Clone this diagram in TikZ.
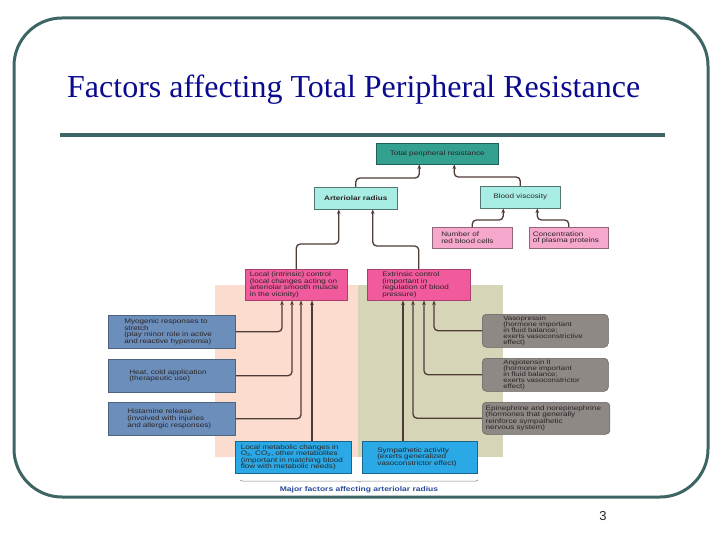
\documentclass[tikz,border=0pt]{standalone}
\usepackage{fontspec}
\setmainfont{Liberation Serif}
\newfontfamily\bxf[FakeStretch=1.25]{Liberation Sans}
\newfontfamily\pnf{Liberation Sans}
\usetikzlibrary{arrows.meta,decorations.pathreplacing}
\definecolor{framec}{HTML}{3D6563}
\definecolor{ttl}{HTML}{0A0A8F}
\definecolor{tprc}{HTML}{34A090}
\definecolor{aqua}{HTML}{A8EDE3}
\definecolor{pinkl}{HTML}{F5A8CC}
\definecolor{hotpink}{HTML}{F15A9C}
\definecolor{pinkbg}{HTML}{FBDCCF}
\definecolor{khaki}{HTML}{D7D5B8}
\definecolor{lblue}{HTML}{6C8EBB}
\definecolor{grayb}{HTML}{8E8985}
\definecolor{bblue}{HTML}{2BA9E6}
\definecolor{connc}{HTML}{4F3B36}
\definecolor{txt}{HTML}{2A2526}
\definecolor{capc}{HTML}{2B4A9C}
\begin{document}
\begin{tikzpicture}[x=1pt,y=-1pt,
  bx/.style={font=\bxf\fontsize{6.5}{6.6}\selectfont, text=txt, inner ysep=0pt,
             anchor=north west, line width=0.5pt},
  conn/.style={draw=connc, line width=1.3pt, rounded corners=4pt,
               -{Stealth[length=4.5pt,width=3.6pt]}},
  lbox/.style={bx, fill=lblue, draw=lblue!70!black, minimum width=127pt,
               minimum height=33pt, align=left},
  gbox/.style={bx, fill=grayb, draw=grayb!70!black, rounded corners=4pt,
               minimum width=126pt, minimum height=33pt, align=left,
               font=\bxf\fontsize{6.3}{6.0}\selectfont},
  pbox/.style={bx, fill=hotpink, draw=hotpink!70!black, minimum width=102pt,
               minimum height=31pt, align=left},
  bbox/.style={bx, fill=bblue, draw=bblue!60!black, minimum width=116pt,
               minimum height=32pt, align=left},
]
\useasboundingbox (0,0) rectangle (720,540);
\fill[white] (0,0) rectangle (720,540);

% frame and title
\draw[framec, line width=3pt, rounded corners=48pt] (14,18) rectangle (708,497);
\node[anchor=base west, font=\fontsize{32}{36}\selectfont, text=ttl, inner sep=0pt]
  (title) at (67,98) {Factors affecting Total Peripheral Resistance};
\draw[framec, line width=3.2pt] (60,135) -- (665,135);

% background panels
\fill[pinkbg] (215,285) rectangle (358,457);
\fill[khaki] (358,285) rectangle (503,457);

% top boxes
\node[bx, fill=tprc, draw=tprc!60!black, minimum width=122pt, minimum height=21pt]
  (tpr) at (376,143) {Total peripheral resistance};
\node[bx, fill=aqua, draw=aqua!50!black, minimum width=83pt, minimum height=22pt,
  font=\bxf\bfseries\fontsize{6.5}{6.6}\selectfont]
  (art) at (314,187) {Arteriolar radius};
\node[bx, fill=aqua, draw=aqua!50!black, minimum width=80pt, minimum height=22pt]
  (bv) at (480,186) {Blood viscosity};
\node[bx, fill=pinkl, draw=pinkl!60!black, minimum width=80pt, minimum height=21pt,
  text width=62pt, align=left]
  (rbc) at (432,227) {Number of\\red blood cells};
\node[bx, fill=pinkl, draw=pinkl!60!black, minimum width=79pt, minimum height=21pt,
  text width=72pt, align=left]
  (pp) at (529,227) {Concentration\\of plasma proteins};

% control boxes
\node[pbox, text width=93pt] (local) at (245,269)
  {Local (intrinsic) control\\(local changes acting on\\arteriolar smooth muscle\\in the vicinity)};
\node[pbox, minimum width=103pt, text width=73pt] (ext) at (367,269)
  {Extrinsic control\\(important in\\regulation of blood\\pressure)};

% left factor boxes
\node[lbox, text width=95pt] (myo) at (108,315)
  {Myogenic responses to\\stretch\\(play minor role in active\\and reactive hyperemia)};
\node[lbox, text width=85pt] (heat) at (108,359)
  {Heat, cold application\\(therapeutic use)};
\node[lbox, text width=89pt] (hist) at (108,402)
  {Histamine release\\(involved with injuries\\and allergic responses)};

% right factor boxes
\node[gbox, text width=84pt] (vaso) at (482,314)
  {Vasopressin\\(hormone important\\in fluid balance;\\exerts vasoconstrictive\\effect)};
\node[gbox, text width=84pt] (angio) at (482,358)
  {Angiotensin II\\(hormone important\\in fluid balance;\\exerts vasoconstrictor\\effect)};
\node[gbox, minimum width=127pt, minimum height=32pt, text width=121pt,
  font=\bxf\fontsize{6.5}{6.4}\selectfont] (epi) at (482,402)
  {Epinephrine and norepinephrine\\(hormones that generally\\reinforce sympathetic\\nervous system)};

% bottom boxes
\node[bbox, text width=105pt] (lmet) at (235,441)
  {Local metabolic changes in\\O\textsubscript{2}, CO\textsubscript{2}, other metabolites\\(important in matching blood\\flow with metabolic needs)};
\node[bbox, minimum width=115pt, text width=85pt] (symp) at (362,441)
  {Sympathetic activity\\(exerts generalized\\vasoconstrictor effect)};

% coordinates for arrow ends
\coordinate (t1) at ([xshift=-18pt]tpr.south);
\coordinate (t2) at ([xshift=17pt]tpr.south);
\coordinate (b1) at ([xshift=-17pt]bv.south);
\coordinate (b2) at ([xshift=17pt]bv.south);
\coordinate (a1) at ([xshift=-17pt]art.south);
\coordinate (a2) at ([xshift=17pt]art.south);
\coordinate (l1) at ([xshift=37pt]local.south west);
\coordinate (l2) at ([xshift=47pt]local.south west);
\coordinate (l3) at ([xshift=56pt]local.south west);
\coordinate (l4) at ([xshift=67pt]local.south west);
\coordinate (e1) at ([xshift=36pt]ext.south west);
\coordinate (e2) at ([xshift=46pt]ext.south west);
\coordinate (e3) at ([xshift=57pt]ext.south west);
\coordinate (e4) at ([xshift=67pt]ext.south west);

% connectors
\draw[conn] (art.north) -- ++(0,-9) -| (t1);
\draw[conn] (bv.north) -- ++(0,-9) -| (t2);
\draw[conn] (rbc.north) -- ++(0,-7) -| (b1);
\draw[conn] (pp.north) -- ++(0,-7) -| (b2);
\draw[conn] (local.north) -- ++(0,-25) -| (a1);
\draw[conn] (ext.north) -- ++(0,-23) -| (a2);
\draw[conn] (myo.east) -| (l1);
\draw[conn] (heat.east) -| (l2);
\draw[conn] (hist.east) -| (l3);
\draw[conn] (l4 |- lmet.north) -- (l4);
\draw[conn] (vaso.west) -| (e4);
\draw[conn] (angio.west) -| (e3);
\draw[conn] (epi.west) -| (e2);
\draw[conn] (e1 |- symp.north) -- (e1);

% caption
\coordinate (capL) at (240,480);
\coordinate (capR) at (478,480);
\draw[gray, line width=0.5pt, decorate, decoration={brace, amplitude=2pt, mirror}] (capL) -- (capR);
\node[font=\bxf\bfseries\fontsize{6.8}{8}\selectfont, text=capc, inner sep=0pt]
  (cap) at (359,490) {Major factors affecting arteriolar radius};

% page number
\node[font=\pnf\fontsize{13}{15}\selectfont, text=black!85, inner sep=0pt] (pgno) at (603,516) {3};
\end{tikzpicture}
\end{document}
